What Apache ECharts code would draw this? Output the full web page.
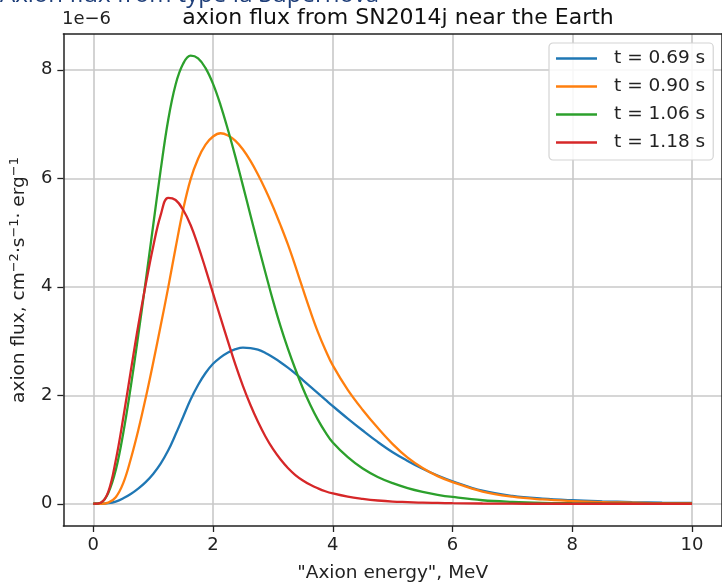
<!DOCTYPE html>
<html>
<head>
<meta charset="utf-8">
<script src="https://cdn.jsdelivr.net/npm/echarts@6/dist/echarts.min.js"></script>
<style>html,body{margin:0;padding:0;background:#fff;}#c{width:722px;height:588px;}</style>
</head>
<body>
<div id="c"></div>
<script>
// Axion energy, MeV
const energy = [0,0.125,0.25,0.375,0.5,0.625,0.75,0.875,1,1.125,1.25,1.375,1.5,1.625,1.75,1.875,2,2.125,2.25,2.375,2.5,2.625,2.75,2.875,3,3.125,3.25,3.375,3.5,3.625,3.75,3.875,4,4.25,4.5,4.75,5,5.25,5.5,5.75,6,6.5,7,7.5,8,8.5,9,9.5,10];
// axion flux, in units of 1e-6
const flux069 = [0,0,0.01,0.04,0.10,0.18,0.28,0.40,0.55,0.74,0.98,1.28,1.60,1.92,2.19,2.41,2.58,2.70,2.79,2.85,2.88,2.87,2.84,2.78,2.70,2.61,2.51,2.40,2.28,2.16,2.04,1.92,1.80,1.57,1.35,1.14,0.95,0.79,0.645,0.52,0.415,0.24,0.145,0.095,0.065,0.045,0.03,0.02,0.015];
const flux090 = [0,0,0.02,0.12,0.38,0.82,1.35,1.95,2.6,3.28,3.98,4.72,5.42,5.98,6.36,6.62,6.77,6.83,6.79,6.69,6.53,6.32,6.07,5.79,5.48,5.14,4.78,4.38,3.96,3.55,3.17,2.84,2.55,2.10,1.73,1.40,1.10,0.85,0.66,0.51,0.40,0.225,0.13,0.08,0.05,0.03,0.02,0.01,0.01];
const flux106 = [0,0.02,0.20,0.62,1.30,2.15,3.10,4.10,5.13,6.15,7.07,7.73,8.11,8.26,8.21,8.03,7.74,7.35,6.89,6.39,5.86,5.32,4.78,4.26,3.75,3.28,2.86,2.48,2.13,1.82,1.55,1.32,1.13,0.86,0.65,0.495,0.38,0.29,0.22,0.165,0.125,0.065,0.035,0.018,0.01,0.005,0.003,0.002,0.001];
const flux118 = [0,0.02,0.22,0.80,1.58,2.44,3.28,4.04,4.74,5.32,5.64,5.60,5.42,5.14,4.76,4.33,3.88,3.43,2.99,2.56,2.17,1.82,1.51,1.24,1.01,0.82,0.66,0.53,0.43,0.35,0.285,0.23,0.19,0.13,0.09,0.06,0.04,0.03,0.02,0.015,0.01,0.005,0.002,0,0,0,0,0,0];
const seriesNames = ['t = 0.69 s','t = 0.90 s','t = 1.06 s','t = 1.18 s'];
const colors = ['#1f77b4','#ff7f0e','#2ca02c','#d62728'];
const xTicks = [0,2,4,6,8,10];
const yTicks = [0,2,4,6,8];

const allFlux = [flux069, flux090, flux106, flux118];
const font = 'DejaVu Sans';
const chart = echarts.init(document.getElementById('c'), null, {renderer:'canvas'});
const series = allFlux.map((arr,i)=>({
  name: seriesNames[i],
  type: 'line',
  data: energy.map((e,j)=>[e, arr[j]]),
  smooth: 0.4,
  showSymbol: false,
  symbol: 'none',
  lineStyle: {width: 2.3, color: colors[i]},
  itemStyle: {color: colors[i]},
  z: 3 + i,
  animation: false
}));
const option = {
  animation: false,
  backgroundColor: '#fff',
  title: {
    text: 'axion flux from SN2014j near the Earth',
    left: 393, top: 2, textAlign: 'center',
    textStyle: {fontFamily: font, fontSize: 22, fontWeight: 'normal', color: '#111'}
  },
  graphic: [
    {type:'text', left: 0, top: -17, z: 10, style:{text:'Axion flux from type Ia Supernova', fontFamily:'Open Sans', fontSize: 24, fill:'#1f3f7a'}},
    {type:'text', left: 62, top: 10, style:{text:'1e\u22126', fontFamily: font, fontSize: 18, fill:'#222'}}
  ],
  legend: {
    left: 549, top: 43, orient: 'vertical',
    data: seriesNames,
    icon: 'rect', itemWidth: 41, itemHeight: 2.5, itemGap: 9,
    padding: [6, 8, 8, 7],
    backgroundColor: 'rgba(255,255,255,0.85)',
    borderColor: '#d4d4d4', borderWidth: 1.2, borderRadius: 4,
    textStyle: {fontFamily: font, fontSize: 18.5, color: '#222', padding: [0,0,0,12]}
  },
  grid: {left: 62, top: 34, width: 661, height: 496, containLabel: false},
  xAxis: [{
    type: 'value', min: -0.5, max: 10.5,
    name: '"Axion energy", MeV', nameLocation: 'middle', nameGap: 38,
    nameTextStyle: {fontFamily: font, fontSize: 18.5, color: '#222'},
    axisLine: {onZero: false, lineStyle: {color: '#222', width: 1.5}},
    axisTick: {show: true, length: 6, customValues: xTicks, lineStyle: {color: '#222', width: 1.3}},
    axisLabel: {customValues: xTicks, margin: 10, fontFamily: font, fontSize: 18, color: '#222'},
    splitLine: {show: true, lineStyle: {color: '#c8c8c8', width: 1.6}}
  }, {
    type: 'value', min: -0.5, max: 10.5, position: 'top',
    axisLine: {show: true, onZero: false, lineStyle: {color: '#222', width: 1.5}},
    axisTick: {show: false}, axisLabel: {show: false}, splitLine: {show: false}
  }],
  yAxis: [{
    type: 'value', min: -0.41, max: 8.66,
    name: 'axion flux, cm{s|\u22122}\u00B7s{s|\u22121}\u00B7 erg{s|\u22121}', nameLocation: 'middle', nameGap: 32, nameRotate: 90,
    nameTextStyle: {fontFamily: font, fontSize: 18.5, color: '#222', lineHeight: 22,
      rich: {s: {fontFamily: font, fontSize: 13, color: '#222', verticalAlign: 'top', lineHeight: 14}}},
    axisLine: {show: true, onZero: false, lineStyle: {color: '#222', width: 1.5}},
    axisTick: {show: true, length: 6, customValues: yTicks, lineStyle: {color: '#222', width: 1.3}},
    axisLabel: {customValues: yTicks, margin: 11, fontFamily: font, fontSize: 18, color: '#222'},
    splitLine: {show: true, lineStyle: {color: '#c8c8c8', width: 1.6}}
  }, {
    type: 'value', min: -0.41, max: 8.66, position: 'right',
    axisLine: {show: true, onZero: false, lineStyle: {color: '#222', width: 1.5}},
    axisTick: {show: false}, axisLabel: {show: false}, splitLine: {show: false}
  }],
  series: series
};
chart.setOption(option);
</script>
</body>
</html>
